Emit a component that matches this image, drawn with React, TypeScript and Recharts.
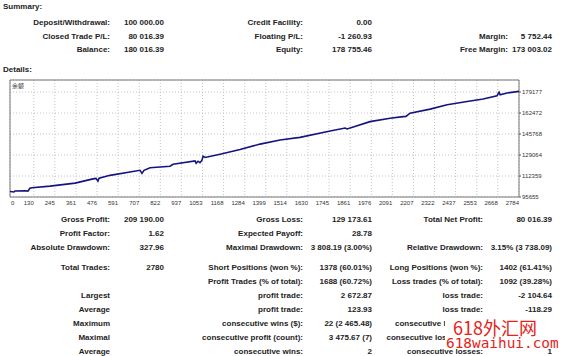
import React from 'react';
import { LineChart, Line, XAxis, YAxis, CartesianGrid, ReferenceArea } from 'recharts';

// ---- chart data ----
const tradeNo = [0, 22, 27, 82, 98, 109, 120, 219, 356, 454, 470, 481, 487, 547, 711, 722, 733, 766, 875, 892, 1012, 1018, 1028, 1039, 1050, 1056, 1067, 1149, 1258, 1368, 1477, 1586, 1751, 1833, 1844, 1969, 2079, 2150, 2166, 2188, 2298, 2391, 2500, 2588, 2664, 2675, 2681, 2719, 2784];
const balance = [100000, 99672, 100400, 100600, 100300, 102600, 103000, 104300, 106716, 110082, 110483, 108319, 110600, 112887, 116895, 114490, 116895, 118899, 120101, 121704, 124349, 122506, 124108, 122906, 124909, 128115, 127073, 129719, 133486, 137734, 140940, 143104, 148153, 150558, 149756, 155606, 158331, 159613, 159775, 162340, 165546, 168992, 171637, 173561, 176206, 179011, 177007, 178370, 179700];
const xTicks = [0, 130, 245, 361, 476, 591, 707, 822, 937, 1053, 1168, 1284, 1399, 1514, 1630, 1745, 1861, 1976, 2091, 2207, 2322, 2437, 2553, 2668, 2784];
const yTicks = [95655, 112359, 129064, 145768, 162472, 179177];
const yTop = 188723;
const seriesName = '余额';

// ---- report texts ----
const summaryTitle = 'Summary:';
const detailsTitle = 'Details:';
const summaryRows = [
  ['Deposit/Withdrawal:', '100 000.00', 'Credit Facility:', '0.00', '', ''],
  ['Closed Trade P/L:', '80 016.39', 'Floating P/L:', '-1 260.93', 'Margin:', '5 752.44'],
  ['Balance:', '180 016.39', 'Equity:', '178 755.46', 'Free Margin:', '173 003.02'],
];
const detailRows = [
  ['Gross Profit:', '209 190.00', 'Gross Loss:', '129 173.61', 'Total Net Profit:', '80 016.39'],
  ['Profit Factor:', '1.62', 'Expected Payoff:', '28.78', '', ''],
  ['Absolute Drawdown:', '327.96', 'Maximal Drawdown:', '3 808.19 (3.00%)', 'Relative Drawdown:', '3.15% (3 738.09)'],
  ['Total Trades:', '2780', 'Short Positions (won %):', '1378 (60.01%)', 'Long Positions (won %):', '1402 (61.41%)'],
  ['', '', 'Profit Trades (% of total):', '1688 (60.72%)', 'Loss trades (% of total):', '1092 (39.28%)'],
  ['Largest', '', 'profit trade:', '2 672.87', 'loss trade:', '-2 104.64'],
  ['Average', '', 'profit trade:', '123.93', 'loss trade:', '-118.29'],
  ['Maximum', '', 'consecutive wins ($):', '22 (2 465.48)', 'consecutive losses ($):', ''],
  ['Maximal', '', 'consecutive profit (count):', '3 475.67 (7)', 'consecutive loss (count):', ''],
  ['Average', '', 'consecutive wins:', '2', 'consecutive losses:', '1'],
];
const watermark1 = '618外汇网';
const watermark2 = '618waihui.com';

// ---- layout ----
const SUM_Y = [22, 35.5, 49];
const SUM_COLS = [110, 164, 303, 372, 508, 552];
const DET_Y = [219, 233, 247, 267, 281, 295, 309, 323, 337, 351];
const DET_COLS = [110, 164, 303, 372, 483, 552];
const FONT = '"Liberation Sans", Arial, sans-serif';
const TXT = '#232323';

const data = tradeNo.map((t, i) => ({ t, v: balance[i] }));

const XTick = (props: any) => {
  const { x, y, payload } = props;
  const first = payload.value === xTicks[0];
  return (
    <text x={first ? x + 1 : x} y={y + 8} textAnchor={first ? 'start' : 'end'} fontSize={6} fontFamily={FONT} fill="#333">
      {String(payload.value)}
    </text>
  );
};

const Row = ({ cells, y, cols }: { cells: string[]; y: number; cols: number[] }) => (
  <g>
    {cells.map((c, i) =>
      c ? (
        <text key={i} x={cols[i]} y={y + 3} textAnchor="end" fontSize={8} fontWeight="bold" fontFamily={FONT} fill={TXT}>
          {c}
        </text>
      ) : null
    )}
  </g>
);

export default function App() {
  return (
    <div style={{ position: 'absolute', left: 0, top: 0, width: 565, height: 356, background: '#fff', overflow: 'hidden' }}>
      <svg width={565} height={356} style={{ position: 'absolute', left: 0, top: 0 }}>
        <text x={3} y={8.5} fontSize={8} fontWeight="bold" fontFamily={FONT} fill={TXT}>{summaryTitle}</text>
        {summaryRows.map((r, i) => <Row key={i} cells={r} y={SUM_Y[i]} cols={SUM_COLS} />)}
        <text x={3} y={72} fontSize={8} fontWeight="bold" fontFamily={FONT} fill={TXT}>{detailsTitle}</text>
        {detailRows.map((r, i) => <Row key={i} cells={r} y={DET_Y[i]} cols={DET_COLS} />)}
        <text x={12} y={88} fontSize={6} fontFamily='"Noto Sans CJK SC", sans-serif' fill="#333">{seriesName}</text>
      </svg>
      <div style={{ position: 'absolute', left: 0, top: 0 }}>
        <LineChart width={565} height={215} data={data} margin={{ top: 80, right: 0, bottom: 0, left: 10 }}>
          <CartesianGrid xAxisId="b" yAxisId="r" stroke="#c4c4c4" strokeDasharray="1 2" />
          <XAxis xAxisId="b" dataKey="t" type="number" domain={[0, 2784]} ticks={xTicks} interval={0} height={18}
            tickLine={false} tickSize={0} tickMargin={0} axisLine={false} tick={<XTick />} allowDataOverflow />
          <YAxis yAxisId="r" orientation="right" type="number" domain={[yTicks[0], yTop]} ticks={yTicks} interval={0} width={46}
            tickSize={2} tickMargin={1} axisLine={false} tickLine={{ stroke: '#555' }}
            tick={{ fontSize: 6, fill: '#333', fontFamily: FONT }} allowDataOverflow />
          <ReferenceArea xAxisId="b" yAxisId="r" x1={0} x2={2784} y1={yTicks[0]} y2={yTop} fill="none" stroke="#777" strokeOpacity={1} fillOpacity={0} />
          <Line xAxisId="b" yAxisId="r" dataKey="v" type="linear" stroke="#14147e" strokeWidth={1.6} dot={false} isAnimationActive={false} />
        </LineChart>
      </div>
      <svg width={565} height={356} style={{ position: 'absolute', left: 0, top: 0 }}>
        <rect x={445} y={316} width={120} height={32} fill="#fff" />
        <text x={453} y={335} fontSize={18} fontFamily='"Noto Sans CJK SC", sans-serif' fill="#e5231b">{watermark1}</text>
        <text x={446} y={348} fontSize={14.4} fontFamily='"DejaVu Sans Mono", monospace' fill="#e5231b">{watermark2}</text>
      </svg>
    </div>
  );
}
